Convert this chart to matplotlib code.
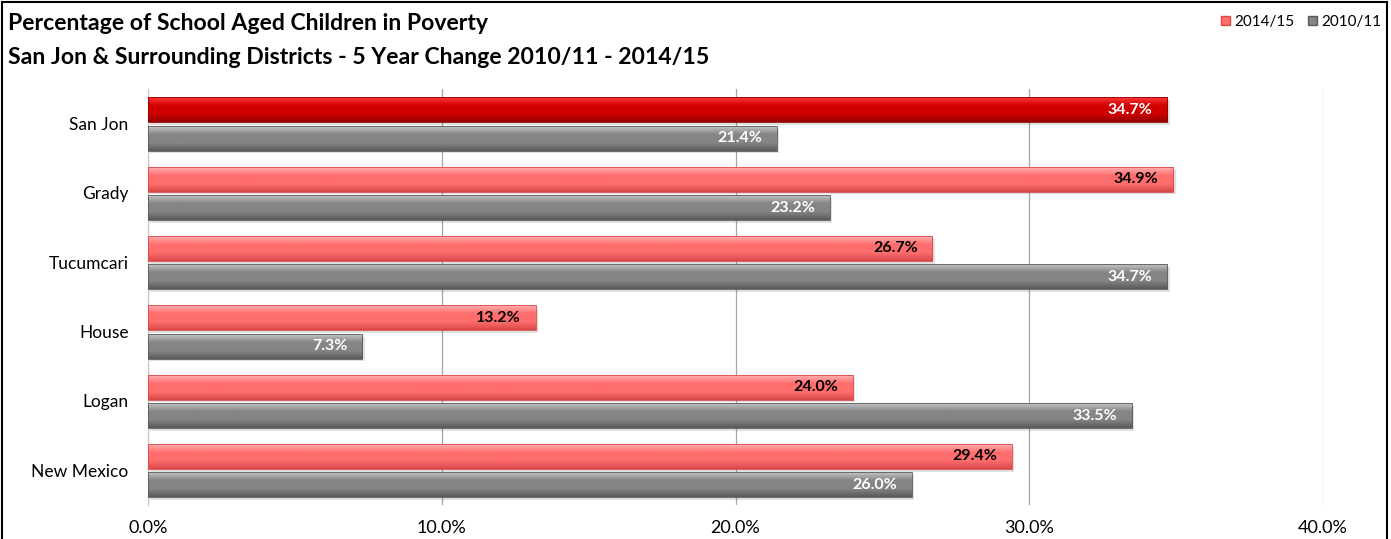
import matplotlib.pyplot as plt
import matplotlib.colors as mcolors
from matplotlib.patches import Patch
import numpy as np

districts = ["San Jon", "Grady", "Tucumcari", "House", "Logan", "New Mexico"]
pct_1415 = [34.7, 34.9, 26.7, 13.2, 24.0, 29.4]
pct_1011 = [21.4, 23.2, 34.7, 7.3, 33.5, 26.0]

title1 = "Percentage of School Aged Children in Poverty"
title2 = "San Jon & Surrounding Districts - 5 Year Change 2010/11 - 2014/15"

plt.rcParams['font.family'] = ['Lato', 'DejaVu Sans']

# top / middle / bottom shades for the glossy bars
red_light = ["#ffb0b0", "#ff6e6e", "#d94848"]
red_dark = ["#ff3a3a", "#d00000", "#960000"]
grey = ["#c4c4c4", "#858585", "#5a5a5a"]


def shade(bars, stops, ax):
    cmap = mcolors.LinearSegmentedColormap.from_list("g", [stops[0], stops[1], stops[1], stops[2]])
    grad = np.linspace(0, 1, 64).reshape(-1, 1)
    for b in bars:
        x0, y0 = b.get_x(), b.get_y()
        w, h = b.get_width(), b.get_height()
        # soft drop shadow
        ax.add_patch(plt.Rectangle((x0 + 0.08, y0 + 0.04), w, h, color="#000000",
                                   alpha=0.12, lw=0, zorder=2))
        im = ax.imshow(grad, cmap=cmap, aspect="auto", extent=(x0, x0 + w, y0 + h, y0),
                       zorder=3, interpolation="bicubic")
        im.set_clip_path(b)
        b.set_edgecolor(stops[2])
        b.set_linewidth(0.6)
        b.set_zorder(3.5)
        b.set_facecolor("none")


fig = plt.figure(figsize=(13.91, 5.39), dpi=100)
ax = fig.add_axes([148 / 1391, 1 - 505 / 539, (1323 - 148) / 1391, (505 - 89) / 539])

y = np.arange(len(districts))
h = 0.36
bars_new = ax.barh(y - 0.2, pct_1415, height=h, color="none")
bars_old = ax.barh(y + 0.21, pct_1011, height=h, color="none")

shade([bars_new[0]], red_dark, ax)
shade(list(bars_new)[1:], red_light, ax)
shade(bars_old, grey, ax)

for i, (a, b) in enumerate(zip(pct_1415, pct_1011)):
    ax.text(a - 0.5, i - 0.2, f"{a:.1f}%", ha="right", va="center", fontsize=11.5,
            fontweight="bold", color="white" if i == 0 else "black", zorder=5)
    ax.text(b - 0.5, i + 0.21, f"{b:.1f}%", ha="right", va="center", fontsize=11.5,
            fontweight="bold", color="white", zorder=5)

ax.set_xlim(0, 40)
ax.set_ylim(len(districts) - 0.5, -0.5)
ax.set_xticks([0, 10, 20, 30, 40])
ax.set_xticklabels([f"{v:.1f}%" for v in [0, 10, 20, 30, 40]], fontsize=13)
ax.set_yticks(y)
ax.set_yticklabels(districts, fontsize=12.5)
ax.tick_params(axis="both", length=0)
ax.tick_params(axis="x", pad=11)
ax.tick_params(axis="y", pad=14)
ax.grid(axis="x", color="#a6a6a6", lw=0.9, zorder=1)
ax.set_axisbelow(True)
for s in ["top", "right", "bottom"]:
    ax.spines[s].set_visible(False)
ax.spines["left"].set_color("#c8c8c8")
ax.spines["left"].set_zorder(1)

fig.text(8 / 1391, 1 - 24 / 539, title1, fontsize=16.6, fontweight="bold", va="center")
fig.text(8 / 1391, 1 - 57 / 539, title2, fontsize=16.6, fontweight="bold", va="center")

# legend
handles = [Patch(facecolor=red_light[1], edgecolor=red_light[2], label="2014/15"),
           Patch(facecolor=grey[1], edgecolor=grey[2], label="2010/11")]
fig.legend(handles=handles, loc="center right", bbox_to_anchor=(1381 / 1391, 1 - 22 / 539),
           ncol=2, frameon=False, fontsize=11, handlelength=0.6, handleheight=0.6,
           handletextpad=0.25, columnspacing=0.9, borderaxespad=0, borderpad=0)

# outer frame
fig.patches.append(plt.Rectangle((2 / 1391, -0.05), 1385 / 1391, 1.05 - 2 / 539,
                                 transform=fig.transFigure, fill=False, ec="black", lw=1.5))

fig.savefig("out.png", dpi=100)
